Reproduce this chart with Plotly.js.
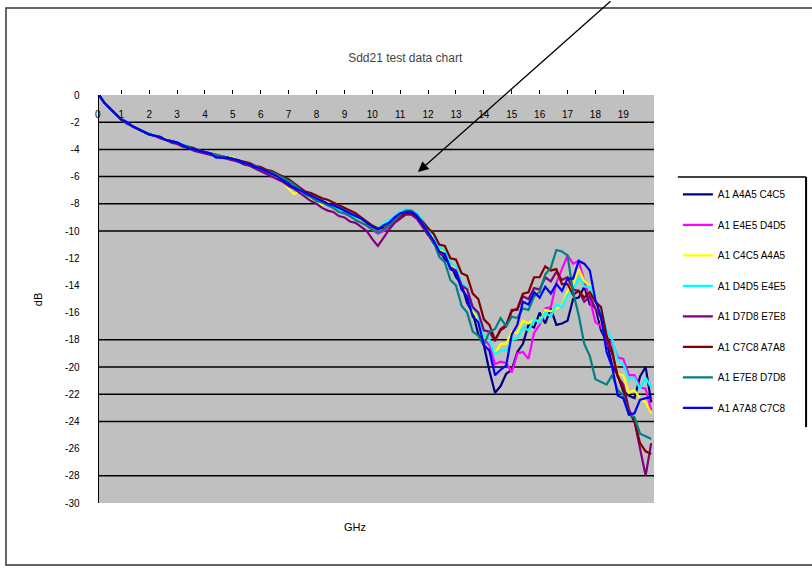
<!DOCTYPE html>
<html>
<head>
<meta charset="utf-8">
<script src="https://cdn.plot.ly/plotly-3.0.1.min.js"></script>
<style>
  html, body { margin: 0; padding: 0; background: #fff; }
  #chart { width: 812px; height: 568px; }
</style>
</head>
<body>
<div id="chart"></div>
<script>
// Frequency points (GHz)
const freqGHz = [
  0.2, 0.4, 0.6, 0.8, 1.0, 1.2, 1.4, 1.6, 1.8, 2.0,
  2.2, 2.4, 2.6, 2.8, 3.0, 3.2, 3.4, 3.6, 3.8, 4.0,
  4.2, 4.4, 4.6, 4.8, 5.0, 5.2, 5.4, 5.6, 5.8, 6.0,
  6.2, 6.4, 6.6, 6.8, 7.0, 7.2, 7.4, 7.6, 7.8, 8.0,
  8.2, 8.4, 8.6, 8.8, 9.0, 9.2, 9.4, 9.6, 9.8, 10.0,
  10.2, 10.4, 10.6, 10.8, 11.0, 11.2, 11.4, 11.6, 11.8, 12.0,
  12.2, 12.4, 12.6, 12.8, 13.0, 13.2, 13.4, 13.6, 13.8, 14.0,
  14.2, 14.4, 14.6, 14.8, 15.0, 15.2, 15.4, 15.6, 15.8, 16.0,
  16.2, 16.4, 16.6, 16.8, 17.0, 17.2, 17.4, 17.6, 17.8, 18.0,
  18.2, 18.4, 18.6, 18.8, 19.0, 19.2, 19.4, 19.6, 19.8, 20.0
];

// Series names
const seriesNames = [
  "A1 A4A5 C4C5", "A1 E4E5 D4D5", "A1 C4C5 A4A5", "A1 D4D5 E4E5",
  "A1 D7D8 E7E8", "A1 C7C8 A7A8", "A1 E7E8 D7D8", "A1 A7A8 C7C8"
];

// Series colours
const seriesColors = [
  "#000080", "#FF00FF", "#FFFF00", "#00FFFF",
  "#800080", "#800000", "#008080", "#0000FF"
];

// Measured dB values, one array per pair
const a4a5_c4c5 = [
  0.0, -0.6, -1.0, -1.4, -1.8, -2.1, -2.3, -2.5, -2.7, -2.9,
  -3.0, -3.1, -3.3, -3.4, -3.5, -3.7, -3.9, -4.0, -4.1, -4.2,
  -4.3, -4.4, -4.5, -4.6, -4.7, -4.9, -5.0, -5.1, -5.3, -5.4,
  -5.6, -5.8, -6.0, -6.2, -6.5, -6.9, -7.0, -7.3, -7.4, -7.7,
  -7.8, -8.0, -8.1, -8.3, -8.5, -8.8, -8.9, -9.2, -9.4, -9.8,
  -9.9, -9.7, -9.5, -9.0, -8.8, -8.7, -8.6, -9.0, -9.6, -10.2,
  -10.9, -11.3, -12.1, -12.4, -13.4, -13.9, -15.3, -16.0, -17.6, -18.4,
  -20.3, -21.9, -21.4, -20.5, -20.2, -18.9, -18.3, -16.9, -17.1, -16.0,
  -16.8, -15.7, -16.9, -16.8, -16.6, -15.0, -14.9, -14.1, -15.4, -15.6,
  -17.3, -18.1, -19.9, -20.6, -21.8, -22.1, -22.3, -20.7, -20.0, -22.6
];
const e4e5_d4d5 = [
  0.0, -0.6, -1.0, -1.4, -1.8, -2.0, -2.3, -2.5, -2.7, -2.9,
  -3.0, -3.1, -3.3, -3.4, -3.5, -3.7, -3.8, -4.0, -4.1, -4.2,
  -4.3, -4.4, -4.5, -4.6, -4.7, -4.9, -5.0, -5.1, -5.3, -5.5,
  -5.7, -5.8, -6.1, -6.3, -6.6, -6.9, -7.2, -7.4, -7.6, -7.8,
  -8.0, -8.1, -8.3, -8.5, -8.7, -8.9, -9.1, -9.3, -9.6, -9.9,
  -10.2, -10.0, -9.7, -9.3, -8.9, -8.7, -8.6, -8.9, -9.4, -10.0,
  -10.5, -11.4, -11.6, -12.4, -12.8, -13.9, -14.2, -15.7, -16.3, -17.9,
  -18.4, -19.8, -19.6, -19.7, -20.4, -19.0, -18.9, -19.4, -17.5, -16.9,
  -15.7, -15.6, -13.8, -12.8, -11.8, -12.4, -12.2, -13.7, -15.0, -16.7,
  -17.0, -18.0, -18.2, -19.3, -19.4, -20.6, -20.6, -21.5, -21.6, -23.2
];
const c4c5_a4a5 = [
  0.0, -0.6, -1.0, -1.4, -1.8, -2.0, -2.3, -2.5, -2.7, -2.9,
  -3.0, -3.1, -3.2, -3.4, -3.5, -3.7, -3.8, -4.0, -4.1, -4.2,
  -4.3, -4.4, -4.5, -4.6, -4.6, -4.8, -5.0, -5.1, -5.3, -5.4,
  -5.6, -5.8, -6.1, -6.4, -6.9, -7.3, -7.0, -7.5, -7.6, -7.9,
  -8.1, -8.0, -8.3, -8.5, -8.7, -8.8, -9.0, -9.2, -9.5, -9.8,
  -10.0, -9.8, -9.4, -9.0, -8.7, -8.5, -8.5, -8.8, -9.4, -10.0,
  -10.5, -11.4, -11.5, -12.5, -12.7, -13.9, -14.4, -15.9, -16.4, -17.8,
  -18.1, -19.0, -18.3, -18.3, -17.4, -17.5, -16.6, -16.8, -16.5, -16.7,
  -15.8, -15.9, -15.7, -15.5, -14.4, -13.9, -12.8, -13.7, -14.0, -15.4,
  -16.6, -18.3, -18.8, -20.5, -20.6, -21.9, -21.7, -22.3, -22.6, -23.4
];
const d4d5_e4e5 = [
  0.0, -0.6, -1.0, -1.4, -1.8, -2.0, -2.3, -2.5, -2.7, -2.8,
  -3.0, -3.1, -3.3, -3.4, -3.5, -3.6, -3.8, -4.0, -4.1, -4.2,
  -4.3, -4.4, -4.5, -4.6, -4.7, -4.8, -5.0, -5.1, -5.2, -5.4,
  -5.6, -5.8, -6.0, -6.3, -6.6, -7.0, -7.1, -7.3, -7.5, -7.8,
  -7.9, -8.1, -8.2, -8.4, -8.6, -8.8, -9.0, -9.1, -9.4, -9.6,
  -9.8, -9.5, -9.2, -8.9, -8.6, -8.4, -8.5, -8.7, -9.2, -9.8,
  -10.3, -11.2, -11.4, -12.4, -12.6, -13.8, -14.2, -15.7, -16.2, -17.7,
  -18.0, -19.1, -18.8, -18.8, -18.0, -17.9, -17.1, -17.3, -16.5, -16.7,
  -16.0, -16.3, -15.4, -15.6, -14.7, -14.5, -13.4, -14.1, -14.1, -15.2,
  -15.7, -17.3, -18.0, -19.5, -19.8, -20.9, -20.8, -21.6, -20.8, -21.5
];
const d7d8_e7e8 = [
  0.0, -0.6, -1.0, -1.4, -1.8, -2.0, -2.3, -2.5, -2.7, -2.9,
  -3.0, -3.2, -3.3, -3.5, -3.6, -3.8, -3.9, -4.1, -4.2, -4.3,
  -4.4, -4.5, -4.6, -4.7, -4.8, -4.9, -5.1, -5.2, -5.4, -5.6,
  -5.8, -6.0, -6.2, -6.4, -6.7, -6.9, -7.2, -7.5, -7.8, -8.0,
  -8.3, -8.5, -8.6, -8.9, -9.0, -9.3, -9.4, -9.7, -10.0, -10.6,
  -11.1, -10.5, -9.9, -9.4, -9.1, -8.8, -8.8, -9.1, -9.7, -10.3,
  -10.8, -11.7, -11.8, -12.7, -12.9, -14.0, -14.3, -15.6, -16.0, -17.3,
  -17.4, -18.1, -17.2, -16.9, -15.8, -15.8, -14.8, -15.0, -14.2, -14.3,
  -13.4, -13.7, -13.0, -13.6, -13.4, -14.3, -14.4, -15.2, -14.8, -15.7,
  -16.4, -18.2, -19.0, -20.7, -21.3, -23.1, -24.0, -25.9, -28.0, -25.6
];
const c7c8_a7a8 = [
  0.0, -0.6, -1.0, -1.4, -1.8, -2.0, -2.3, -2.5, -2.7, -2.9,
  -3.0, -3.1, -3.3, -3.4, -3.5, -3.7, -3.8, -3.9, -4.1, -4.2,
  -4.3, -4.4, -4.5, -4.6, -4.7, -4.8, -4.9, -5.0, -5.2, -5.3,
  -5.5, -5.6, -5.8, -6.0, -6.2, -6.5, -6.8, -7.1, -7.2, -7.4,
  -7.6, -7.7, -7.9, -8.1, -8.3, -8.5, -8.7, -9.0, -9.3, -9.6,
  -9.8, -9.8, -9.6, -9.2, -8.9, -8.7, -8.7, -8.9, -9.3, -9.8,
  -10.2, -11.0, -11.1, -12.0, -12.1, -13.1, -13.3, -14.6, -15.0, -16.5,
  -16.9, -18.0, -17.3, -17.0, -15.9, -15.7, -14.6, -14.5, -13.4, -13.4,
  -12.6, -12.9, -12.8, -13.9, -13.9, -14.7, -14.4, -14.9, -14.5, -15.2,
  -15.6, -17.7, -18.8, -20.7, -21.6, -23.3, -24.0, -25.6, -26.2, -26.4
];
const e7e8_d7d8 = [
  0.0, -0.6, -1.0, -1.4, -1.8, -2.0, -2.3, -2.5, -2.7, -2.9,
  -3.0, -3.1, -3.3, -3.4, -3.5, -3.7, -3.8, -4.0, -4.1, -4.2,
  -4.3, -4.4, -4.5, -4.6, -4.7, -4.8, -5.0, -5.1, -5.2, -5.4,
  -5.6, -5.7, -5.9, -6.1, -6.3, -6.6, -6.9, -7.3, -7.5, -7.8,
  -7.9, -8.1, -8.3, -8.6, -8.7, -8.9, -9.2, -9.4, -9.6, -9.9,
  -10.1, -9.9, -9.6, -9.2, -8.8, -8.5, -8.5, -8.8, -9.4, -10.1,
  -10.8, -11.9, -12.3, -13.6, -14.0, -15.5, -16.0, -17.4, -17.7, -18.4,
  -17.4, -17.2, -16.4, -17.0, -16.3, -16.4, -15.7, -15.8, -14.8, -14.5,
  -13.2, -12.7, -11.4, -11.5, -11.8, -14.5, -16.2, -18.3, -19.2, -20.9,
  -21.1, -21.3, -20.6, -21.7, -22.1, -23.5, -23.7, -24.9, -25.1, -25.3
];
const a7a8_c7c8 = [
  0.0, -0.6, -1.0, -1.4, -1.8, -2.0, -2.3, -2.5, -2.7, -2.9,
  -3.0, -3.1, -3.3, -3.4, -3.5, -3.7, -3.9, -4.0, -4.1, -4.2,
  -4.3, -4.6, -4.6, -4.6, -4.7, -4.8, -5.0, -5.1, -5.3, -5.4,
  -5.6, -5.8, -6.0, -6.3, -6.6, -6.8, -7.0, -7.2, -7.4, -7.6,
  -7.8, -8.0, -8.1, -8.3, -8.5, -8.7, -8.9, -9.1, -9.4, -9.7,
  -9.9, -9.6, -9.4, -9.0, -8.7, -8.6, -8.6, -8.9, -9.5, -10.1,
  -10.7, -11.5, -11.7, -12.8, -13.0, -14.3, -14.8, -16.3, -16.7, -18.4,
  -18.8, -20.6, -20.2, -19.9, -17.6, -16.9, -15.2, -15.4, -14.5, -14.9,
  -14.1, -14.6, -13.9, -14.4, -13.5, -13.5, -12.2, -12.4, -12.9, -15.1,
  -16.3, -18.9, -20.0, -22.1, -22.3, -23.5, -23.4, -22.4, -22.3, -22.2
];

const seriesValues = [
  a4a5_c4c5, e4e5_d4d5, c4c5_a4a5, d4d5_e4e5,
  d7d8_e7e8, c7c8_a7a8, e7e8_d7d8, a7a8_c7c8
];

// Axis ticks
const xTickVals = [1, 2, 3, 4, 5, 6, 7, 8, 9, 10, 11, 12, 13, 14, 15, 16, 17, 18, 19];
const yTickVals = [-2, -4, -6, -8, -10, -12, -14, -16, -18, -20, -22, -24, -26, -28, -30];
const yTickText = ["-2", "-4", "-6", "-8", "-10", "-12", "-14", "-16", "-18", "-20", "-22", "-24", "-26", "-28", "-30"];
// Horizontal rules drawn across the plot
const gridLevels = [-2, -4, -6, -8, -10, -18, -20, -22, -24, -28];

const FONT = "Liberation Sans, Arial, sans-serif";

const traces = seriesNames.map((name, i) => ({
  type: "scatter",
  mode: "lines",
  name: name,
  x: freqGHz,
  y: seriesValues[i],
  line: { color: seriesColors[i], width: 2.2 },
  legendgroup: "g" + i
}));

const shapes = gridLevels.map(v => ({
  type: "line", xref: "paper", yref: "y",
  x0: 0, x1: 1, y0: v, y1: v,
  line: { color: "#000", width: 1.5 },
  layer: "below"
}));

// Chart frame
shapes.push({
  type: "rect", xref: "paper", yref: "paper",
  x0: -0.1676, x1: 1.32, y0: -0.152, y1: 1.213,
  line: { color: "#333", width: 1.5 }, fillcolor: "rgba(0,0,0,0)"
});
// Legend frame (top and right edges)
shapes.push({
  type: "line", xref: "paper", yref: "paper",
  x0: 1.043, x1: 1.274, y0: 0.799, y1: 0.799,
  line: { color: "#000", width: 1.5 }
});
shapes.push({
  type: "line", xref: "paper", yref: "paper",
  x0: 1.274, x1: 1.274, y0: 0.799, y1: 0.186,
  line: { color: "#000", width: 2 }
});

const tickFont = { family: FONT, size: 10, color: "#000" };

const layout = {
  width: 812,
  height: 568,
  margin: { l: 99, r: 158, t: 95, b: 65, pad: 0 },
  paper_bgcolor: "#fff",
  plot_bgcolor: "#C0C0C0",
  font: { family: FONT, size: 10, color: "#000" },
  showlegend: true,
  title: {
    text: "Sdd21 test data chart",
    font: { family: FONT, size: 12, color: "#444" },
    x: 0.499, xanchor: "center",
    yref: "container", y: 1 - 58 / 568, yanchor: "middle"
  },
  xaxis: {
    range: [0.2, 20.1],
    side: "top",
    tickmode: "array",
    tickvals: xTickVals,
    ticks: "outside",
    ticklen: 4,
    tickcolor: "#000",
    tickwidth: 1,
    ticklabelposition: "inside",
    ticklabelstandoff: 13,
    showgrid: false,
    zeroline: false,
    showline: false,
    tickfont: tickFont
  },
  yaxis: {
    range: [-30, 0],
    tickmode: "array",
    tickvals: yTickVals,
    ticktext: yTickText,
    ticks: "",
    ticklabelstandoff: 16,
    showgrid: false,
    zeroline: false,
    showline: true,
    linecolor: "#000",
    linewidth: 1.5,
    tickfont: tickFont
  },
  legend: {
    x: 1.043, xanchor: "left",
    y: 0.792, yanchor: "top",
    bgcolor: "rgba(0,0,0,0)",
    borderwidth: 0,
    tracegroupgap: 11.5,
    font: { family: FONT, size: 10, color: "#000" }
  },
  shapes: shapes,
  annotations: [
    {
      // first category label at the axis origin
      xref: "paper", yref: "paper", x: -0.011, y: 0.953, yanchor: "middle",
      text: "0", showarrow: false, font: tickFont
    },
    {
      // top value label of the dB scale
      xref: "paper", yref: "paper", x: -0.0306, xanchor: "right",
      y: 1.0, yanchor: "middle",
      text: "0", showarrow: false, font: tickFont
    },
    {
      xref: "paper", yref: "paper", x: 0.461, y: -0.078,
      text: "GHz", showarrow: false,
      font: { family: FONT, size: 11, color: "#000" }
    },
    {
      xref: "paper", yref: "paper", x: -0.124, y: 0.4975,
      text: "dB", showarrow: false, textangle: -90,
      font: { family: FONT, size: 11, color: "#000" }
    },
    {
      xref: "paper", yref: "paper", x: 0.5748, y: 0.8113,
      text: "", showarrow: true,
      axref: "pixel", ayref: "pixel", ax: 194, ay: -176,
      arrowhead: 2, arrowsize: 1.6, arrowwidth: 1.3, arrowcolor: "#000"
    }
  ]
};

Plotly.newPlot("chart", traces, layout, { displayModeBar: false, staticPlot: true });
</script>
</body>
</html>
